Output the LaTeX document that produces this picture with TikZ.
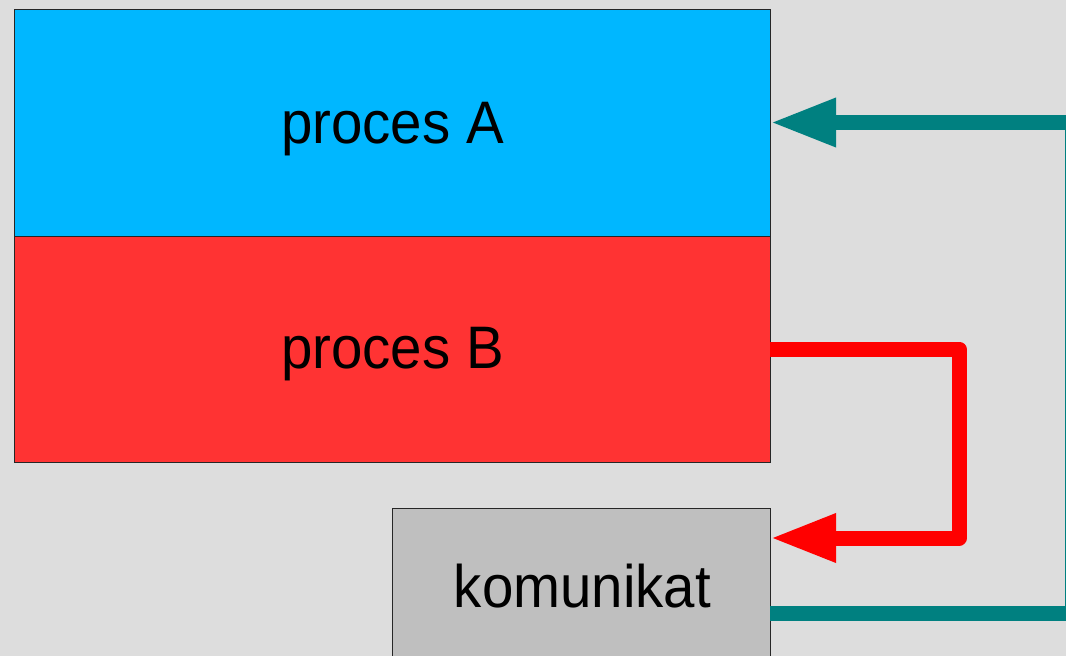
\documentclass[tikz,border=0pt]{standalone}
\usepackage{fontspec}
\setmainfont{Liberation Sans}[FakeStretch=0.94]
\usetikzlibrary{arrows.meta,calc}
\definecolor{bg}{HTML}{DDDDDD}
\definecolor{procA}{HTML}{00B7FF}
\definecolor{procB}{HTML}{FF3333}
\definecolor{msg}{HTML}{BFBFBF}
\definecolor{tealline}{HTML}{008080}
\definecolor{redline}{HTML}{FF0000}
\tikzset{
  block/.style={draw=black!85, line width=1pt, inner sep=0pt, outer sep=0pt},
  label/.style={font=\fontsize{60}{72}\selectfont, anchor=base, inner sep=0pt},
  flow/.style={line width=15pt, -{Triangle[length=66pt,width=45pt]}},
}
\begin{document}
\begin{tikzpicture}[x=1pt,y=-1pt]
  % canvas
  \useasboundingbox (0,0) rectangle (1066,656);
  \fill[bg] (0,0) rectangle (1066,656);

  % process blocks
  \node[block, fill=procA, minimum width=756pt, minimum height=227pt] (A) at (392,122.5) {};
  \node[block, fill=procB, minimum width=756pt, minimum height=226pt] (B) at (392,349) {};
  \node[block, fill=msg, minimum width=378pt, minimum height=200pt] (K) at (581,608) {};

  \node[label] (tA) at (392.5,143) {proces A};
  \node[label] (tB) at (392.5,368) {proces B};
  \node[label] (tK) at (582.5,607) {komunikat};

  % message from B into the buffer
  \coordinate (kin) at ($(K.north east)+(0,30)$);
  \draw[flow, redline, line join=round] (B.east) -- (959,349) -- (959,538) -- (kin);

  % message delivered from the buffer to A
  \coordinate (kout) at ($(K.north east)+(0,105)$);
  \draw[flow, tealline] (kout) -- (1072,613) -- (1072,122.5) -- (A.east);
\end{tikzpicture}
\end{document}
